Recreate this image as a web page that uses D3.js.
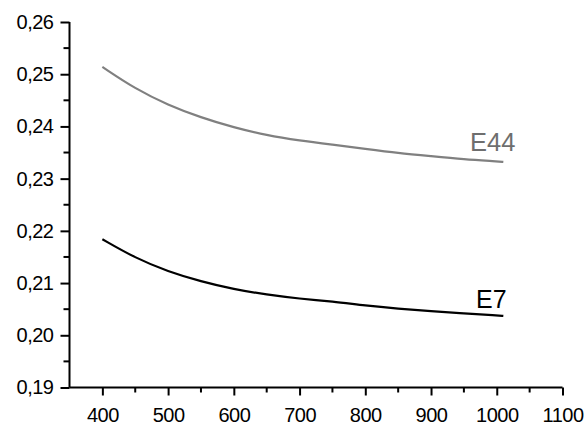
<!DOCTYPE html>
<html><head><meta charset="utf-8">
<script src="https://cdn.jsdelivr.net/npm/d3@7"></script>
<style>body{margin:0;background:#fff}svg{display:block}text{font-family:"Liberation Sans",Arial,sans-serif}</style>
</head><body>
<script>
const xVals = [400,450,500,550,600,650,700,750,800,850,900,950,1000,1010];
const e44 = [0.2514,0.2472,0.2441,0.2417,0.2398,0.2383,0.2373,0.2365,0.2357,0.2349,0.2343,0.2337,0.2333,0.2332];
const e7  = [0.2184,0.2148,0.2122,0.2103,0.2088,0.2078,0.2070,0.2065,0.2057,0.2051,0.2046,0.2042,0.2038,0.2037];
const xTicks = [400,500,600,700,800,900,1000,1100];
const yTicks = [0.19,0.20,0.21,0.22,0.23,0.24,0.25,0.26];
const seriesNames = ["E44","E7"];

const W=587,H=426;
const svg=d3.select("body").append("svg").attr("width",W).attr("height",H);
const x=d3.scaleLinear().domain([350,1100]).range([69.5,562.5]);
const y=d3.scaleLinear().domain([0.19,0.26]).range([387.5,22]);

const fmt=d=>d3.format(".2f")(d).replace(".",",");
const yMinor=d3.range(0.195,0.26,0.01);
const xMinor=d3.range(450,1100,100);

const gy=svg.append("g").attr("transform","translate(69.5,0)");
gy.call(d3.axisLeft(y).tickValues(yTicks).tickFormat(fmt).tickSize(9).tickPadding(7));
gy.append("g").selectAll("line").data(yMinor).join("line")
  .attr("x1",-6).attr("x2",0).attr("y1",d=>y(d)).attr("y2",d=>y(d)).attr("stroke","#000").attr("stroke-width",2);
const gx=svg.append("g").attr("transform","translate(0,387.5)");
gx.call(d3.axisBottom(x).tickValues(xTicks).tickFormat(d3.format("d")).tickSize(8).tickPadding(12));
gx.append("g").selectAll("line").data(xMinor).join("line")
  .attr("y1",0).attr("y2",5).attr("x1",d=>x(d)).attr("x2",d=>x(d)).attr("stroke","#000").attr("stroke-width",2);
[gx,gy].forEach(g=>{
  g.select(".domain").attr("stroke","#000").attr("stroke-width",2);
  g.selectAll(".tick line").attr("stroke","#000").attr("stroke-width",2);
  g.selectAll(".tick text").attr("font-size",20).attr("fill","#000").attr("font-family","'Liberation Sans',Arial,sans-serif").attr("letter-spacing","-0.5");
});
gx.select(".domain").attr("d",`M${x(350)},0H${x(1100)}`);
gy.select(".domain").attr("d",`M0,${y(0.19)}V${y(0.26)}`);

const line=d3.line().x((d,i)=>x(xVals[i])).y(d=>y(d)).curve(d3.curveBasis);
svg.append("path").datum(e44).attr("d",line).attr("fill","none").attr("stroke","#808080").attr("stroke-width",2.2);
svg.append("path").datum(e7).attr("d",line).attr("fill","none").attr("stroke","#000").attr("stroke-width",2.2);

svg.append("text").attr("x",470).attr("y",151).attr("font-size",25.5).attr("fill","#6e6e6e").text(seriesNames[0]);
svg.append("text").attr("x",476).attr("y",308).attr("font-size",25).attr("fill","#000").text(seriesNames[1]);
</script>
</body></html>
